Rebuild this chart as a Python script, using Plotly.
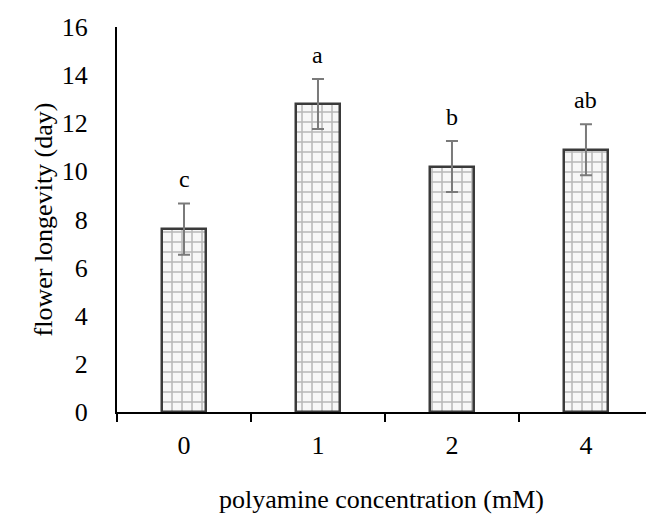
import plotly.graph_objects as go

categories = ["0", "1", "2", "4"]
longevity = [7.6, 12.8, 10.2, 10.9]
errors = [1.07, 1.04, 1.06, 1.06]
letters = ["c", "a", "b", "ab"]

fig = go.Figure()
fig.add_trace(go.Bar(
    x=categories, y=longevity, width=0.33,
    marker=dict(
        color="#f4f4f4",
        line=dict(color="#3a3a3a", width=2.5),
        pattern=dict(shape="+", fgcolor="#777777", bgcolor="#f7f7f7", size=10, solidity=0.28),
    ),
    error_y=dict(type="data", array=errors, visible=True, color="#7a7a7a", thickness=2, width=6),
    showlegend=False,
))

for i, (v, e, t) in enumerate(zip(longevity, errors, letters)):
    fig.add_annotation(x=i, y=v + e, xref="x", yref="y", text=t, showarrow=False,
                       yanchor="bottom", yshift=9,
                       font=dict(family="Liberation Serif", size=24, color="black"))

font = dict(family="Liberation Serif", size=26, color="black")
fig.update_layout(
    width=646, height=516,
    margin=dict(l=117, r=0, t=27, b=104),
    paper_bgcolor="white", plot_bgcolor="white",
    font=font,
    bargap=0,
)
fig.update_xaxes(
    type="category", automargin=False,
    range=[-0.5, 3.448], showline=True, linecolor="black", linewidth=2,
    ticks="outside", tickson="boundaries", ticklen=8, tickwidth=1.5, tickcolor="black",
    showgrid=False, tickfont=font, ticklabelstandoff=9,
    title=dict(text="polyamine concentration (mM)", font=dict(family="Liberation Serif", size=26), standoff=31),
)
fig.update_yaxes(
    automargin=False,
    range=[0, 16], dtick=2, showline=True, linecolor="black", linewidth=2,
    ticks="", showgrid=False, zeroline=False, tickfont=font, ticklabelstandoff=22,
    title=dict(text="flower longevity (day)", font=dict(family="Liberation Serif", size=26), standoff=2),
)
fig.write_html("out.html", config={"displayModeBar": False},
               post_script="document.body.style.margin='0';document.body.style.overflow='hidden';")
